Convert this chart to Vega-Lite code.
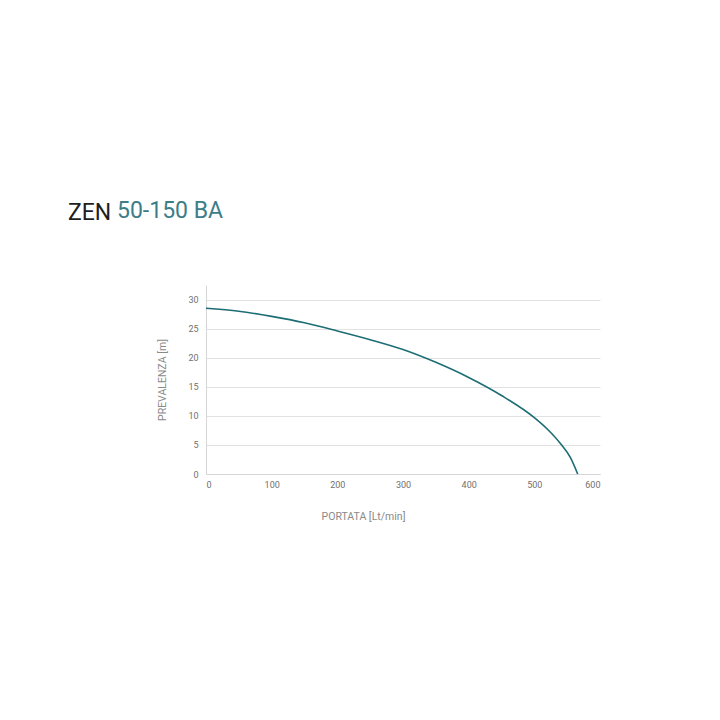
{
  "$schema": "https://vega.github.io/schema/vega-lite/v6.json",
  "background": "white",
  "autosize": {"type": "none"},
  "padding": {"left": 206, "top": 285, "right": 120, "bottom": 246},
  "title": {
    "text": "ZEN",
    "anchor": "start",
    "frame": "group",
    "dx": -138,
    "dy": 29,
    "font": "Roboto",
    "fontSize": 23,
    "fontWeight": "normal",
    "color": "#1e1e1e"
  },
  "vconcat": [
    {
      "width": 394,
      "height": 189,
      "title": {
        "text": "50-150 BA",
        "anchor": "start",
        "frame": "group",
        "dx": -89,
        "offset": 62,
        "font": "Roboto",
        "fontSize": 23,
        "fontWeight": "normal",
        "color": "#3d7d87"
      },
      "data": {
        "values": [
          {"portata": 0, "prevalenza": 28.5},
          {"portata": 50, "prevalenza": 28.0},
          {"portata": 100, "prevalenza": 27.1},
          {"portata": 150, "prevalenza": 26.0},
          {"portata": 200, "prevalenza": 24.6},
          {"portata": 250, "prevalenza": 23.1},
          {"portata": 300, "prevalenza": 21.4},
          {"portata": 350, "prevalenza": 19.2},
          {"portata": 400, "prevalenza": 16.6},
          {"portata": 450, "prevalenza": 13.5},
          {"portata": 500, "prevalenza": 9.7},
          {"portata": 520, "prevalenza": 7.7},
          {"portata": 540, "prevalenza": 5.2},
          {"portata": 555, "prevalenza": 2.8},
          {"portata": 566, "prevalenza": 0}
        ]
      },
      "mark": {"type": "line", "interpolate": "monotone", "color": "#1d6d74", "strokeWidth": 1.6},
      "encoding": {
        "x": {
          "field": "portata",
          "type": "quantitative",
          "title": "PORTATA [Lt/min]",
          "scale": {"domain": [0, 600], "nice": false},
          "axis": {"values": [0, 100, 200, 300, 400, 500, 600], "grid": false, "titleX": 157, "titlePadding": 22}
        },
        "y": {
          "field": "prevalenza",
          "type": "quantitative",
          "title": "PREVALENZA [m]",
          "scale": {"domain": [0, 32.5], "nice": false},
          "axis": {"values": [0, 5, 10, 15, 20, 25, 30], "grid": true, "titlePadding": 20, "labelPadding": 8}
        }
      }
    }
  ],
  "config": {
    "view": {"stroke": null},
    "axis": {
      "labelFont": "Roboto",
      "titleFont": "Roboto",
      "labelFontSize": 9,
      "titleFontSize": 10.5,
      "titleFontWeight": "normal",
      "labelColor": "#707070",
      "titleColor": "#8a8a8a",
      "ticks": false,
      "labelPadding": 6,
      "domainColor": "#d6d6d6",
      "gridColor": "#e2e2e2",
      "gridWidth": 1.2
    }
  }
}
